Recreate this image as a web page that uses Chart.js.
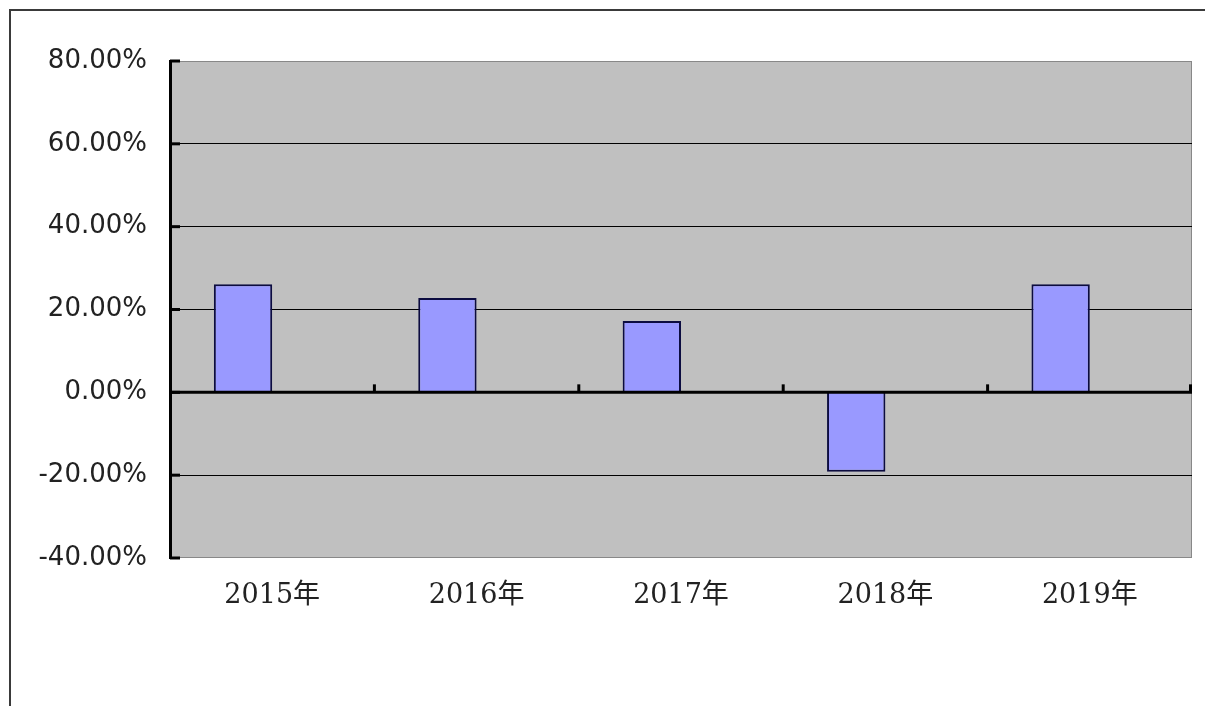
<!DOCTYPE html>
<html>
<head>
<meta charset="utf-8">
<script src="https://cdn.jsdelivr.net/npm/chart.js@4"></script>
<style>
  html, body { margin: 0; padding: 0; background: #fff; overflow: hidden; }
  #wrap { position: relative; width: 1205px; height: 706px; }
  #frame { position: absolute; left: 9px; top: 9px; right: -5px; bottom: -5px;
           border-top: 2px solid #3a3a3a; border-left: 2px solid #3a3a3a; }
  canvas { position: absolute; left: 0; top: 0; }
</style>
</head>
<body>
<div id="wrap">
  <div id="frame"></div>
  <canvas id="growth" width="1205" height="706"></canvas>
</div>
<script>
// values in percent
const years = ['2015年', '2016年', '2017年', '2018年', '2019年'];
const growthRate = [26.1, 22.8, 17.2, -19.2, 26.1];
// empty second series (reserves the right half of each group, like the original)
const emptySeries = [null, null, null, null, null];
const yMin = -40;
const yMax = 80;
const yStep = 20;

// gray plot background with thin border
const plotBackground = {
    id: 'plotBackground',
    beforeDraw(chart) {
        const { ctx, chartArea: a } = chart;
        ctx.save();
        ctx.fillStyle = '#c0c0c0';
        ctx.fillRect(a.left, a.top, a.right - a.left, a.bottom - a.top);
        ctx.strokeStyle = '#888';
        ctx.lineWidth = 1;
        ctx.strokeRect(a.left + 0.5, a.top + 0.5, a.right - a.left - 1, a.bottom - a.top - 1);
        ctx.restore();
    }
};

// zero line over the bars, y ticks inside the axis, x ticks up from the zero line
const axisTicks = {
    id: 'axisTicks',
    afterDatasetsDraw(chart) {
        const { ctx, chartArea: a, scales: { x, y } } = chart;
        ctx.save();
        ctx.strokeStyle = '#000';
        ctx.lineWidth = 3;
        const y0 = y.getPixelForValue(0);
        ctx.beginPath();
        ctx.moveTo(a.left, y0);
        ctx.lineTo(a.right, y0);
        ctx.stroke();
        y.ticks.forEach(t => {
            const py = y.getPixelForValue(t.value);
            ctx.beginPath();
            ctx.moveTo(a.left, py);
            ctx.lineTo(a.left + 10, py);
            ctx.stroke();
        });
        for (let i = 0; i < years.length; i++) {
            const bx = i + 1 < years.length
                ? (x.getPixelForValue(i) + x.getPixelForValue(i + 1)) / 2
                : a.right - 1.5;
            ctx.beginPath();
            ctx.moveTo(bx, y0);
            ctx.lineTo(bx, y0 - 8);
            ctx.stroke();
        }
        ctx.restore();
    }
};

const ctx = document.getElementById('growth').getContext('2d');
const growth = new Chart(ctx, {
    type: 'bar',
    data: {
        labels: years,
        datasets: [{
            label: '增长率',
            data: growthRate,
            backgroundColor: '#9999ff',
            borderColor: '#0c0c40',
            borderWidth: 2,
            borderSkipped: 'start'
        }, {
            label: '',
            data: emptySeries
        }]
    },
    options: {
        responsive: false,
        animation: false,
        datasets: {
            bar: { categoryPercentage: 0.571, barPercentage: 1 }
        },
        layout: { padding: { top: 61, right: 13, left: 0, bottom: 0 } },
        plugins: {
            legend: { display: false },
            tooltip: { enabled: false }
        },
        scales: {
            x: {
                grid: { display: false, drawTicks: false },
                border: { display: false },
                ticks: {
                    color: '#222',
                    padding: 22,
                    font: { family: "'DejaVu Serif', 'Noto Sans CJK SC'", size: 27 }
                },
                afterFit(scale) { scale.height = 148; }
            },
            y: {
                min: yMin,
                max: yMax,
                ticks: {
                    stepSize: yStep,
                    color: '#222',
                    padding: 23,
                    font: { family: "'DejaVu Sans'", size: 26 },
                    callback: v => v.toFixed(2) + '%'
                },
                grid: {
                    drawTicks: false,
                    color: c => [yMax, yMin, 0].includes(c.tick.value) ? 'rgba(0,0,0,0)' : '#000',
                    lineWidth: 1
                },
                border: { color: '#000', width: 3 },
                afterFit(scale) { scale.width = 170; }
            }
        }
    },
    plugins: [plotBackground, axisTicks]
});
</script>
</body>
</html>
